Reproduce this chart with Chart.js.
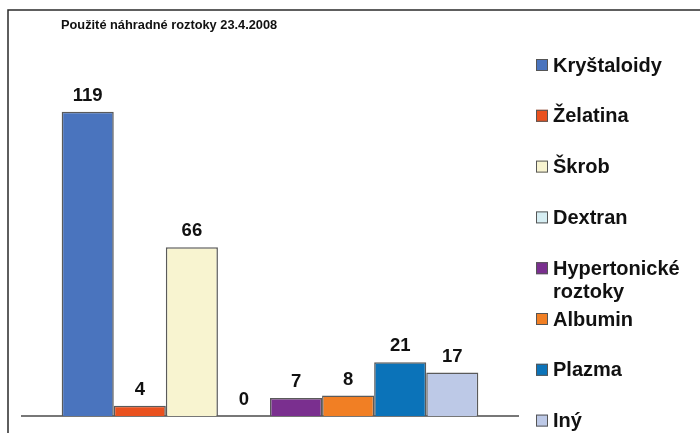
<!DOCTYPE html>
<html>
<head>
<meta charset="utf-8">
<script src="https://cdn.jsdelivr.net/npm/chart.js@4.4.0/dist/chart.umd.min.js"></script>
<style>
  html, body { margin: 0; padding: 0; background: #fff; }
  #wrap { width: 700px; height: 433px; position: relative; }
</style>
</head>
<body>
<div id="wrap"><canvas id="chart"></canvas></div>
<script>
// ========================== Data ==========================
const chartTitle = "Použité náhradné roztoky 23.4.2008";
const seriesNames = ["Kryštaloidy", "Želatina", "Škrob", "Dextran", "Hypertonické roztoky", "Albumin", "Plazma", "Iný"];
const seriesValues = [119, 4, 66, 0, 7, 8, 21, 17];
const seriesColors = ["#4a74be", "#e9511f", "#f8f4d0", "#d6eef3", "#7a2f8f", "#f17f24", "#0b73b9", "#bdc9e7"];
// legend label lines (long names wrap like the original)
const legendLines = [["Kryštaloidy"], ["Želatina"], ["Škrob"], ["Dextran"], ["Hypertonické", "roztoky"], ["Albumin"], ["Plazma"], ["Iný"]];

// ========================== Frame, title, labels, legend ==========================
const decorPlugin = {
    id: "decor",
    beforeDraw(chart) {
        const ctx = chart.ctx;
        ctx.save();
        ctx.strokeStyle = "#2a2a2a";
        ctx.lineWidth = 1.5;
        ctx.beginPath();
        ctx.moveTo(8, 433);
        ctx.lineTo(8, 10);
        ctx.lineTo(700, 10);
        ctx.stroke();
        ctx.restore();
    },
    afterDraw(chart) {
        const ctx = chart.ctx;
        ctx.save();
        // title
        ctx.fillStyle = "#111";
        ctx.font = "bold 12.8px 'Liberation Sans', Arial, sans-serif";
        ctx.textAlign = "left";
        ctx.textBaseline = "middle";
        ctx.fillText(chartTitle, 61, 25);

        // value labels above bars
        ctx.font = "bold 18.5px 'Liberation Sans', Arial, sans-serif";
        ctx.textAlign = "center";
        ctx.textBaseline = "alphabetic";
        chart.data.datasets.forEach((ds, i) => {
            const bar = chart.getDatasetMeta(i).data[0];
            ctx.fillText(String(ds.data[0]), bar.x, bar.y - 11);
        });

        // legend
        ctx.font = "bold 20px 'Liberation Sans', Arial, sans-serif";
        ctx.textAlign = "left";
        ctx.textBaseline = "middle";
        chart.data.datasets.forEach((ds, i) => {
            const y = 65 + i * 50.8;
            ctx.fillStyle = ds.backgroundColor;
            ctx.fillRect(536, y - 6, 12, 12);
            ctx.strokeStyle = "#555";
            ctx.lineWidth = 1;
            ctx.strokeRect(536.5, y - 5.5, 11, 11);
            ctx.fillStyle = "#111";
            legendLines[i].forEach((line, j) => {
                ctx.fillText(line, 553, y + 1 + j * 23);
            });
        });
        ctx.restore();
    }
};

const ctx = document.getElementById("chart").getContext("2d");
new Chart(ctx, {
    type: "bar",
    data: {
        labels: [""],
        datasets: seriesNames.map((name, i) => ({
            label: name,
            data: [seriesValues[i]],
            backgroundColor: seriesColors[i],
            borderColor: "#5a5a5a",
            borderWidth: 1.5,
            borderSkipped: "bottom"
        }))
    },
    options: {
        responsive: true,
        maintainAspectRatio: false,
        animation: false,
        categoryPercentage: 0.84,
        barPercentage: 1,
        layout: { padding: { left: 22, right: 182, top: 58, bottom: 17 } },
        plugins: {
            legend: { display: false },
            title: { display: false },
            tooltip: { enabled: false }
        },
        scales: {
            x: {
                display: true,
                ticks: { display: false },
                grid: { display: false, drawTicks: false },
                border: { color: "#777", width: 2 }
            },
            y: {
                display: false,
                min: 0,
                max: 140
            }
        }
    },
    plugins: [decorPlugin]
});
</script>
</body>
</html>
